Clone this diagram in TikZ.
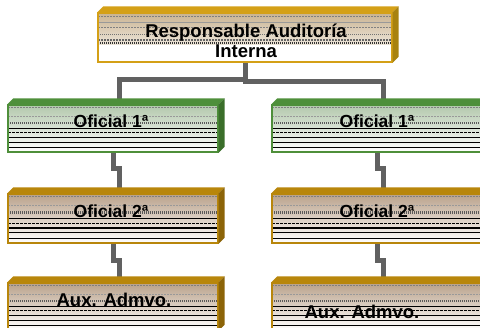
\documentclass[tikz,border=0pt]{standalone}
\usepackage{fontspec}
\setmainfont{Liberation Sans}
\usetikzlibrary{calc}

\definecolor{goldB}{HTML}{D4A017}
\definecolor{goldS}{HTML}{A8820E}
\definecolor{goldF}{HTML}{C9B391}
\definecolor{grnB}{HTML}{4E8F3A}
\definecolor{grnS}{HTML}{3A6E2A}
\definecolor{grnF}{HTML}{B3C8AC}
\definecolor{brnB}{HTML}{B8860B}
\definecolor{brnS}{HTML}{8C6408}
\definecolor{brnF}{HTML}{B9A18A}
\definecolor{wire}{HTML}{616161}

% one horizontal stripe across the box at fraction #1 of its height
\newcommand{\stripeline}[2]{%
  \draw[#2] ($(path picture bounding box.north west)!#1!(path picture bounding box.south west)$)
    -- ($(path picture bounding box.north east)!#1!(path picture bounding box.south east)$);}

% the raised top and right side of a box
\newcommand{\extrude}[2]{%
  \fill[#2B] (#1.north west) -- ([shift={(6,-6)}]#1.north west)
    -- ([shift={(6,-6)}]#1.north east) -- (#1.north east) -- cycle;
  \fill[#2S] (#1.north east) -- ([shift={(6,-6)}]#1.north east)
    -- ([shift={(6,-6)}]#1.south east) -- (#1.south east) -- cycle;}

\tikzset{
  cardbase/.style={rectangle, draw=#1B, line width=1.4pt, inner sep=0pt,
    top color=#1F, middle color=#1F!55, bottom color=white,
    minimum width=210pt, minimum height=47pt},
  card/.style={cardbase=#1,
    path picture={
      \stripeline{0.05}{gray, line width=0.7pt, dash pattern=on 2pt off 1pt}
      \stripeline{0.24}{gray!80, line width=0.7pt, dash pattern=on 2pt off 1pt}
      \stripeline{0.38}{black!65, line width=2.4pt, dash pattern=on 1pt off 1pt}
      \stripeline{0.50}{black, line width=0.8pt}
      \stripeline{0.59}{black, line width=0.6pt, dash pattern=on 3pt off 1pt}
      \stripeline{0.69}{black, line width=1.5pt}
      \stripeline{0.79}{black, line width=0.6pt}
      \stripeline{0.90}{black, line width=0.9pt}
    }},
  headcard/.style={cardbase=#1, top color=#1F, middle color=#1F!70, bottom color=white,
    path picture={
      \stripeline{0.06}{gray, line width=0.7pt, dash pattern=on 2pt off 1pt}
      \stripeline{0.20}{gray!80, line width=0.7pt}
      \stripeline{0.30}{gray, line width=0.7pt, dash pattern=on 2pt off 1pt}
      \stripeline{0.44}{black!55, line width=1.6pt, dash pattern=on 1pt off 1pt}
      \stripeline{0.55}{black!60, line width=1.2pt, dash pattern=on 2pt off 1pt}
      \stripeline{0.62}{black!80, line width=1.8pt, dash pattern=on 1pt off 1pt}
      \fill[white] ($(path picture bounding box.north west)!0.655!(path picture bounding box.south west)$)
        rectangle (path picture bounding box.south east);
    }},
  lbl/.style={font=\bfseries\fontsize{18.5}{20}\selectfont, align=center, inner sep=0pt},
  lbls/.style={font=\bfseries\fontsize{17.5}{20}\selectfont, inner sep=0pt},
  conn/.style={draw=wire, line width=5pt}
}

\begin{document}
\begin{tikzpicture}[x=1pt, y=-1pt]
  \useasboundingbox (0,0) rectangle (480,328);

  % boxes (placed first so connectors can refer to them)
  \path
    (245,37.5)  node[headcard=gold, minimum width=294pt, minimum height=49pt] (top) {}
    (113,128.5) node[card=grn] (l1) {}
    (377,128.5) node[card=grn] (r1) {}
    (113,218.5) node[card=brn, minimum height=49pt] (l2) {}
    (377,218.5) node[card=brn, minimum height=49pt] (r2) {}
    (113,306.5) node[card=brn] (l3) {}
    (377,306.5) node[card=brn] (r3) {};

  % connectors
  \draw[conn] (top.south) -- ++(0,17) -| ([xshift=6pt]l1.north);
  \draw[conn] (top.south) -- ++(0,19) -| ([xshift=6pt]r1.north);
  \draw[conn] (l1.south) -- ++(0,16) -- ++(6,0) -- ([xshift=6pt]l2.north);
  \draw[conn] (r1.south) -- ++(0,16) -- ++(6,0) -- ([xshift=6pt]r2.north);
  \draw[conn] (l2.south) -- ++(0,17) -- ++(6,0) -- ([xshift=6pt]l3.north);
  \draw[conn] (r2.south) -- ++(0,17) -- ++(6,0) -- ([xshift=6pt]r3.north);

  % redraw the boxes over the connector ends
  \path
    (245,37.5)  node[headcard=gold, minimum width=294pt, minimum height=49pt] {}
    (113,128.5) node[card=grn] {}
    (377,128.5) node[card=grn] {}
    (113,218.5) node[card=brn, minimum height=49pt] {}
    (377,218.5) node[card=brn, minimum height=49pt] {}
    (113,306.5) node[card=brn] {}
    (377,306.5) node[card=brn] {};
  \extrude{top}{gold}
  \extrude{l1}{grn}
  \extrude{r1}{grn}
  \extrude{l2}{brn}
  \extrude{r2}{brn}
  \extrude{l3}{brn}
  \extrude{r3}{brn}

  % labels
  \node[lbl]  (tt)  at (246,41)  {Responsable Auditoría\\Interna};
  \node[lbls] (tl1) at (111,121) {Oficial 1ª};
  \node[lbls] (tr1) at (377,121) {Oficial 1ª};
  \node[lbls] (tl2) at (111,211) {Oficial 2ª};
  \node[lbls] (tr2) at (377,211) {Oficial 2ª};
  \node[lbl]  (tl3) at (114,300) {Aux. Admvo.};
  \node[lbl]  (tr3) at (362,312) {Aux. Admvo.};
\end{tikzpicture}
\end{document}
